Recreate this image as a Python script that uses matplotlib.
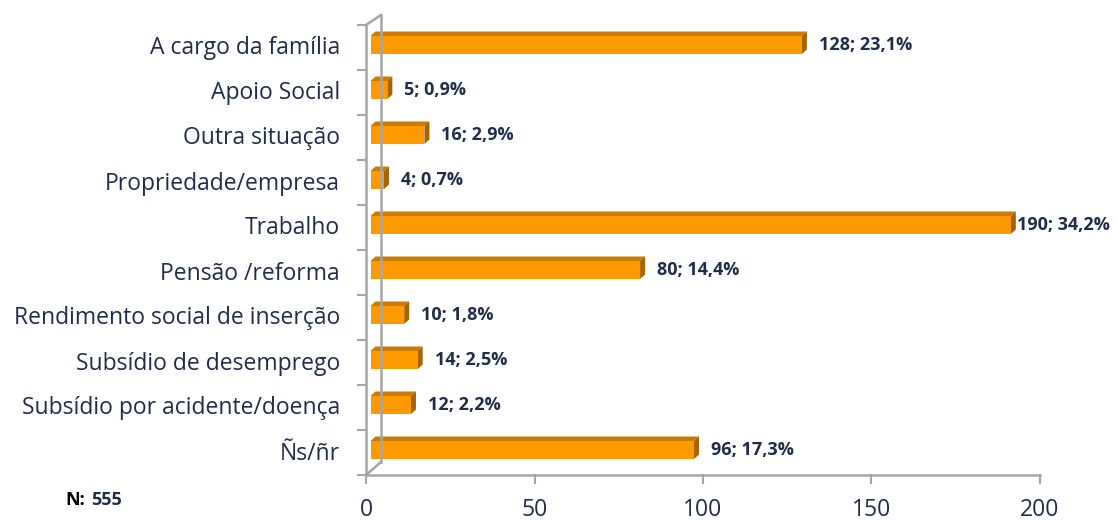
import numpy as np
import matplotlib
matplotlib.use('Agg')
import matplotlib.pyplot as plt
from matplotlib.patches import Polygon

plt.rcParams['font.family'] = ['Open Sans', 'DejaVu Sans']

categories = ['A cargo da família', 'Apoio Social', 'Outra situação', 'Propriedade/empresa',
              'Trabalho', 'Pensão /reforma', 'Rendimento social de inserção',
              'Subsídio de desemprego', 'Subsídio por acidente/doença', 'Ñs/ñr']
counts = [128, 5, 16, 4, 190, 80, 10, 14, 12, 96]
percents = ['23,1', '0,9', '2,9', '0,7', '34,2', '14,4', '1,8', '2,5', '2,2', '17,3']
xticks = [0, 50, 100, 150, 200]

W, H = 1118, 520
fig = plt.figure(figsize=(W / 100, H / 100), dpi=100)
# axes box in pixels: x 366..1040, y 25..475
ax = fig.add_axes([366 / W, (H - 475) / H, 674 / W, 450 / H])
ax.set_xlim(0, 200)
ax.set_ylim(len(categories) - 0.5, -0.5)
ax.axis('off')

sx = 674 / 200.0   # px per unit
sy = 450 / len(categories)  # px per category

front = '#FF9900'
top = '#C97B05'
side = '#A86300'
grid = '#A6A6A6'
navy = '#1F2D4A'

# wall / axes lines
back_x = 15 / sx
ax.plot([0, 0], [-0.5, 9.5], color=grid, lw=1.8, clip_on=False)
ax.plot([back_x, back_x], [-0.5 - 10 / sy, 9.5 - 13 / sy], color=grid, lw=1.8, clip_on=False)
ax.plot([0, back_x], [-0.5, -0.5 - 10 / sy], color=grid, lw=1.8, clip_on=False)
ax.plot([0, back_x], [9.5, 9.5 - 13 / sy], color=grid, lw=1.8, clip_on=False)
ax.plot([0, 200], [9.5, 9.5], color=grid, lw=1.8, clip_on=False)
for t in xticks:
    ax.plot([t, t], [9.5, 9.5 + 8 / sy], color=grid, lw=1.5, clip_on=False)
    ax.text(t, 9.5 + 41 / sy, str(t), ha='center', va='baseline', fontsize=16.5, color=navy)
for b in np.arange(-0.5, 10, 1):
    ax.plot([-8 / sx, 0], [b, b], color=grid, lw=1.5, clip_on=False)

# bars with 3D look
x0 = 4.5 / sx
dx, dy = 5 / sx, -4.5 / sy
hh = 9 / sy
off = -2.5 / sy
vlabels = []
for i, (cat, v, p) in enumerate(zip(categories, counts, percents)):
    yc = i + off
    x1 = x0 + v
    ax.add_patch(Polygon([[x0, yc - hh], [x1, yc - hh], [x1 + dx, yc - hh + dy], [x0 + dx, yc - hh + dy]],
                         closed=True, fc=top, ec='none'))
    ax.add_patch(Polygon([[x1, yc - hh], [x1 + dx, yc - hh + dy], [x1 + dx, yc + hh + dy], [x1, yc + hh]],
                         closed=True, fc=side, ec='none'))
    ax.add_patch(Polygon([[x0, yc - hh], [x1, yc - hh], [x1, yc + hh], [x0, yc + hh]],
                         closed=True, fc=front, ec='none'))
    ax.text(-26 / sx, i + 1 / sy, cat, ha='right', va='center', fontsize=16.5, color=navy)
    t = ax.text(x1 + 17 / sx, yc, f'{v}; {p}%', ha='left', va='center', fontsize=13,
                fontweight='bold', color=navy, clip_on=False)
    vlabels.append(t)

# keep the longest label inside the figure
fig.canvas.draw()
r = fig.canvas.get_renderer()
for t in vlabels:
    bb = t.get_window_extent(r)
    if bb.x1 > W - 8:
        xd = ax.transData.inverted().transform((bb.x0 - (bb.x1 - (W - 8)), bb.y0))[0]
        t.set_x(xd)

fig.text(65 / W, 1 - 500 / H, 'N:', fontsize=13, fontweight='bold', color='black', va='center')
fig.text(91 / W, 1 - 500 / H, '555', fontsize=13, fontweight='bold', color=navy, va='center')

fig.savefig('out.png', dpi=100, facecolor='white')
